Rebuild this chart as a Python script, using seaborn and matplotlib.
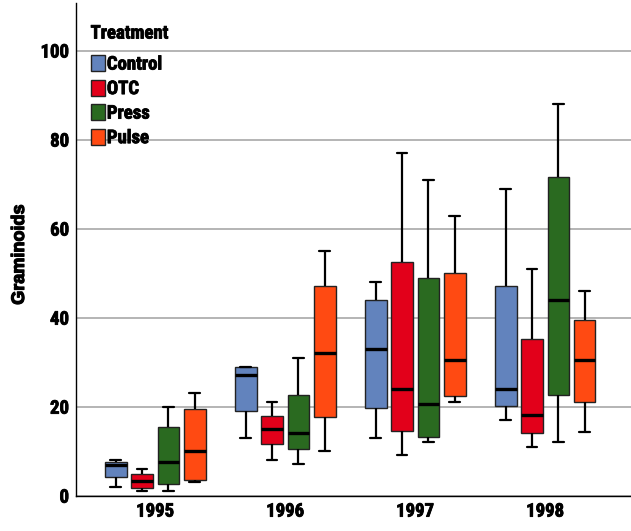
import pandas as pd
import numpy as np
import matplotlib
matplotlib.use("Agg")
import matplotlib.pyplot as plt
import matplotlib.patheffects as pe
import seaborn as sns
from matplotlib import font_manager

# Box summaries: [low whisker, Q1, median, Q3, high whisker]
years = ['1995', '1996', '1997', '1998']
treatments = ['Control', 'OTC', 'Press', 'Pulse']

control = [[2.0, 4.1, 6.8, 7.6, 8.0],
           [13.0, 19.0, 27.1, 29.0, 29.0],
           [13.0, 19.6, 33.0, 43.9, 48.0],
           [17.1, 20.1, 24.0, 47.0, 68.9]]
otc = [[1.1, 1.7, 3.4, 4.9, 6.0],
       [8.1, 11.6, 15.0, 18.0, 21.1],
       [9.1, 14.6, 24.0, 52.4, 76.9],
       [11.0, 14.1, 18.1, 35.1, 50.9]]
press = [[1.1, 2.6, 7.6, 15.5, 20.0],
         [7.1, 10.6, 14.1, 22.6, 31.0],
         [12.1, 13.1, 20.5, 49.0, 70.9],
         [12.1, 22.6, 44.0, 71.5, 87.9]]
pulse = [[3.1, 3.6, 10.1, 19.4, 23.0],
         [10.1, 17.6, 32.0, 47.0, 55.0],
         [21.1, 22.5, 30.5, 50.0, 62.9],
         [14.2, 21.0, 30.5, 39.5, 46.0]]

colors = ['#6283bd', '#e2001a', '#2a6a20', '#ff4a12']

# Long form table: five values per box give exactly these quartiles
rows = []
for name, series in zip(treatments, [control, otc, press, pulse]):
    for yr, vals in zip(years, series):
        for v in vals:
            rows.append({'Year': yr, 'Treatment': name, 'Graminoids': v})
df = pd.DataFrame(rows)

sns.set_style('white')


def wt(f):
    w = f.weight
    if isinstance(w, int):
        return w
    return 700 if 'bold' in str(w) else 400


# narrow bold face like Arial Narrow, if one is around
bold_names = {f.name for f in font_manager.fontManager.ttflist if wt(f) >= 700}
narrow = None
for cand in ['Liberation Sans Narrow', 'Arial Narrow', 'Nimbus Sans Narrow',
             'Roboto Condensed', 'Open Sans Condensed', 'Barlow Semi Condensed']:
    if cand in bold_names:
        narrow = cand
        break
if narrow is None:
    narrow_fp = dict(family=['DejaVu Sans'], stretch='condensed')
else:
    narrow_fp = dict(family=[narrow, 'DejaVu Sans'], stretch='normal')

# bold Arial-like face for the axis title, picked by file
bold_file = None
for f in font_manager.fontManager.ttflist:
    if f.name in ('Liberation Sans', 'Arimo') and wt(f) == 700 and f.style == 'normal' \
            and f.stretch == 'normal':
        bold_file = f.fname
        break

plt.rcParams['font.family'] = ['Liberation Sans', 'DejaVu Sans']
plt.rcParams['text.color'] = 'black'
plt.rcParams['axes.labelcolor'] = 'black'
plt.rcParams['xtick.color'] = 'black'
plt.rcParams['ytick.color'] = 'black'

heavy = [pe.withStroke(linewidth=0.6, foreground='black')]

fig = plt.figure(figsize=(6.31, 5.31), dpi=100)
ax = fig.add_axes([0.1204, 0.0665, 0.8796, 0.928])

sns.boxplot(data=df, x='Year', y='Graminoids', hue='Treatment',
            order=years, hue_order=treatments, palette=colors,
            width=0.81, gap=0.18, whis=100, saturation=1,
            linewidth=1.0, linecolor='#222222',
            medianprops={'color': 'black', 'linewidth': 2.4},
            whiskerprops={'color': 'black', 'linewidth': 1.6},
            capprops={'color': 'black', 'linewidth': 1.6},
            ax=ax)

ax.set_xlim(-0.61, 3.66)
ax.set_ylim(0, 110.7)
ax.set_yticks([0, 20, 40, 60, 80, 100])
ax.yaxis.grid(True, color='#b4b4b4', linewidth=1.4)
ax.set_axisbelow(True)
for s in ['top', 'right']:
    ax.spines[s].set_visible(False)
for s in ['left', 'bottom']:
    ax.spines[s].set_color('black')
    ax.spines[s].set_linewidth(1.0)
ax.tick_params(axis='both', length=0, pad=5)
for lab in ax.get_xticklabels() + ax.get_yticklabels():
    lab.set_fontweight('bold')
    lab.set_fontsize(13.5)
    lab.set_family(narrow_fp['family'])
    lab.set_fontstretch(narrow_fp['stretch'])
    lab.set_path_effects(heavy)
ax.set_xlabel('')
ax.set_ylabel('Graminoids')
ylab = ax.yaxis.label
if bold_file:
    ylab.set_fontproperties(font_manager.FontProperties(fname=bold_file, size=13))
else:
    ylab.set_fontproperties(font_manager.FontProperties(family='DejaVu Sans', weight='bold', size=12))
ylab.set_path_effects([pe.withStroke(linewidth=0.9, foreground='black')])
ax.yaxis.set_label_coords(-0.0865, 0.489)

handles, labels = ax.get_legend_handles_labels()
leg_prop = font_manager.FontProperties(family=narrow_fp['family'], stretch=narrow_fp['stretch'],
                                       weight='bold', size=13.5)
leg = ax.legend(handles, labels, title='Treatment', loc='upper left',
                bbox_to_anchor=(0.006, 0.979), frameon=False,
                prop=leg_prop, title_fontproperties=leg_prop,
                handlelength=0.75, handleheight=0.95, handletextpad=0.12,
                labelspacing=0.32, borderaxespad=0.2)
leg._legend_box.align = 'left'
leg._legend_box.sep = 9
for h in leg.legend_handles:
    h.set_edgecolor('#222222')
for t in leg.get_texts() + [leg.get_title()]:
    t.set_path_effects(heavy)

fig.savefig('out.png', dpi=100)
